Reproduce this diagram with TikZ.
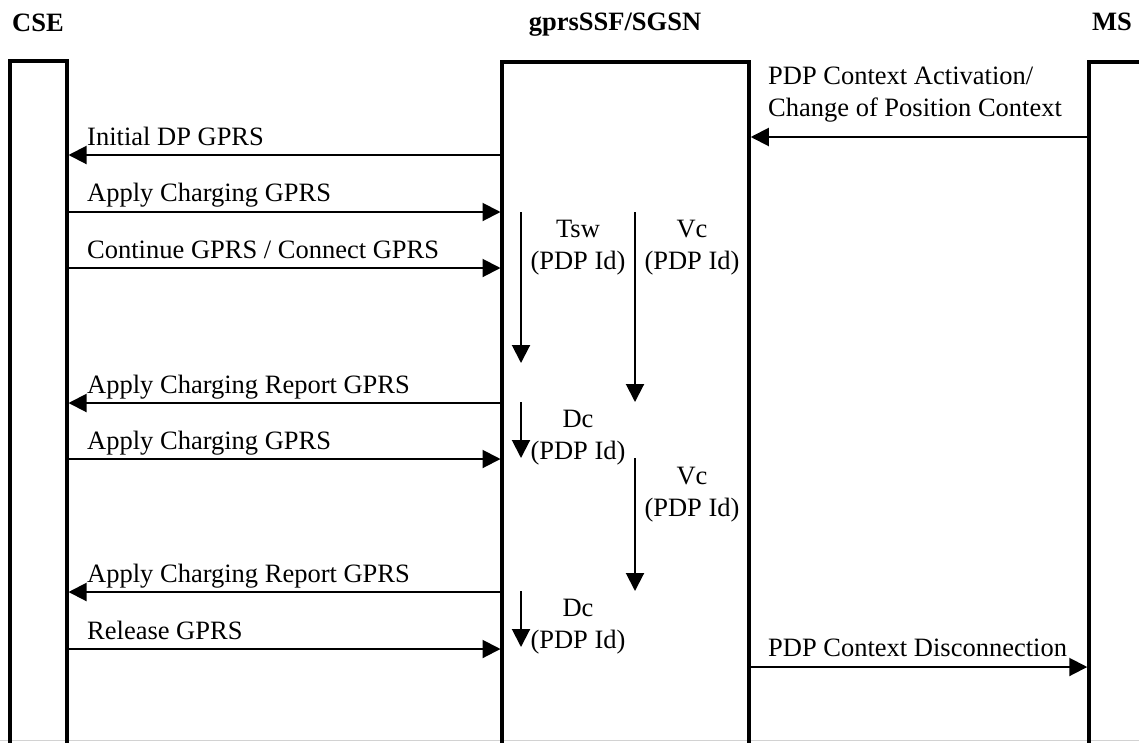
\documentclass[tikz,border=0pt]{standalone}
\usepackage{fontspec}
\setmainfont{Liberation Serif}
\usetikzlibrary{arrows.meta}
\begin{document}
\begin{tikzpicture}[x=1pt,y=-1pt,
  box/.style={line width=3.5pt, line join=miter},
  msg/.style={line width=2pt,-{Triangle[length=18pt,width=18pt]}},
  txt/.style={inner sep=0pt, font=\fontsize{26.5}{32}\selectfont},
  lbl/.style={txt, anchor=base west, align=left},
  clbl/.style={txt, anchor=base, align=center},
  hdr/.style={inner sep=0pt, anchor=base, font=\fontsize{26.5}{32}\selectfont\bfseries}
]
\useasboundingbox (0,0) rectangle (1139,742);
\clip (0,0) rectangle (1139,742);
% bottom page edge
\draw[gray!35, line width=1.5pt] (0,740.5) -- (1139,740.5);
% headers
\node[hdr] (hCSE) at (38,31) {CSE};
\node[hdr] (hSSF) at (615,30) {gprsSSF/SGSN};
\node[hdr] (hMS) at (1112,30) {MS};
% lifeline boxes
\draw[box] (10,760) -- (10,61) -- (67,61) -- (67,760);
\draw[box] (502,760) -- (502,62) -- (749,62) -- (749,760);
\draw[box] (1089,760) -- (1089,62) -- (1160,62);
% message end points
\coordinate (cA) at (68.5,155);  \coordinate (sA) at (502,155);
\coordinate (cB) at (67,212);    \coordinate (sB) at (500.5,212);
\coordinate (cC) at (67,268);    \coordinate (sC) at (500.5,268);
\coordinate (cD) at (68.5,403);  \coordinate (sD) at (502,403);
\coordinate (cE) at (67,459);    \coordinate (sE) at (500.5,459);
\coordinate (cF) at (68.5,592);  \coordinate (sF) at (502,592);
\coordinate (cG) at (67,649);    \coordinate (sG) at (500.5,649);
\coordinate (rA) at (750.75,137); \coordinate (mA) at (1089,137);
\coordinate (rB) at (749,667);   \coordinate (mB) at (1087.25,667);
% messages CSE <-> gprsSSF
\draw[msg] (sA) -- (cA);
\draw[msg] (cB) -- (sB);
\draw[msg] (cC) -- (sC);
\draw[msg] (sD) -- (cD);
\draw[msg] (cE) -- (sE);
\draw[msg] (sF) -- (cF);
\draw[msg] (cG) -- (sG);
\node[lbl] (lA) at (87,145) {Initial DP GPRS};
\node[lbl] (lB) at (87,201) {Apply Charging GPRS};
\node[lbl] (lC) at (87,258) {Continue GPRS / Connect GPRS};
\node[lbl] (lD) at (87,393) {Apply Charging Report GPRS};
\node[lbl] (lE) at (87,449) {Apply Charging GPRS};
\node[lbl] (lF) at (87,582) {Apply Charging Report GPRS};
\node[lbl] (lG) at (87,639) {Release GPRS};
% messages MS <-> gprsSSF
\draw[msg] (mA) -- (rA);
\draw[msg] (rB) -- (mB);
\node[lbl] (lR1) at (768,116) {PDP Context Activation/\\Change of Position Context};
\node[lbl] (lR2) at (768,656) {PDP Context Disconnection};
% timers
\coordinate (t1s) at (521,212); \coordinate (t1e) at (521,363);
\coordinate (v1s) at (635,212); \coordinate (v1e) at (635,402);
\coordinate (d1s) at (521,402); \coordinate (d1e) at (521,458);
\coordinate (v2s) at (635,458); \coordinate (v2e) at (635,591);
\coordinate (d2s) at (521,591); \coordinate (d2e) at (521,647);
\draw[msg] (t1s) -- (t1e);
\draw[msg] (v1s) -- (v1e);
\draw[msg] (d1s) -- (d1e);
\draw[msg] (v2s) -- (v2e);
\draw[msg] (d2s) -- (d2e);
\node[clbl] (tT1) at (578,269) {Tsw\\(PDP Id)};
\node[clbl] (tV1) at (692,269) {Vc\\(PDP Id)};
\node[clbl] (tD1) at (578,459) {Dc\\(PDP Id)};
\node[clbl] (tV2) at (692,516) {Vc\\(PDP Id)};
\node[clbl] (tD2) at (578,648) {Dc\\(PDP Id)};
\end{tikzpicture}
\end{document}
